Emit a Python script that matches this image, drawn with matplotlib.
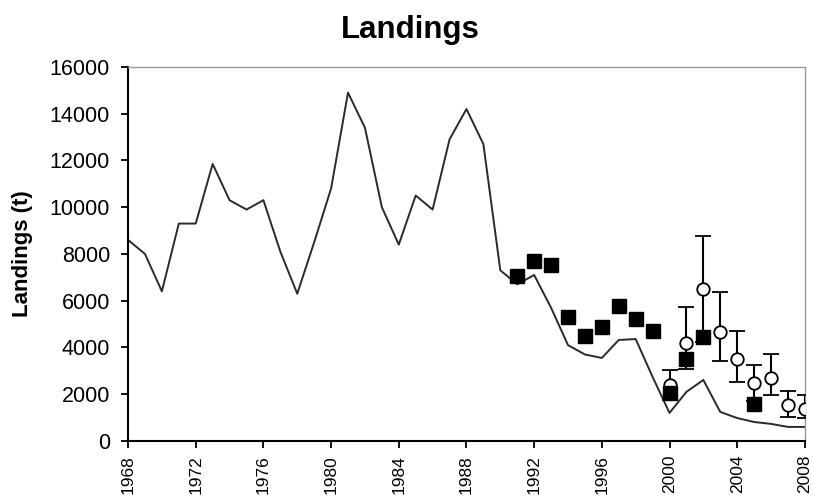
import matplotlib
matplotlib.use("Agg")
import matplotlib.pyplot as plt
import numpy as np

plt.rcParams['font.family'] = ['Liberation Sans', 'DejaVu Sans']

years = list(range(1968, 2009))
landings = [8600, 8000, 6400, 9300, 9300, 11850, 10300, 9900, 10300, 8100,
            6300, 8500, 10800, 14900, 13400, 10000, 8400, 10500, 9900, 12900,
            14200, 12700, 7300, 6700, 7100, 5700, 4100, 3700, 3550, 4320,
            4360, 2740, 1200, 2100, 2610, 1240, 980, 810, 730, 600, 600]

sq_years = [1991, 1992, 1993, 1994, 1995, 1996, 1997, 1998, 1999, 2000, 2001, 2002, 2005]
sq_vals = [7060, 7700, 7530, 5320, 4490, 4890, 5780, 5220, 4720, 2070, 3520, 4460, 1580]

circ_years = [2000, 2001, 2002, 2003, 2004, 2005, 2006, 2007, 2008]
circ_vals = [2400, 4180, 6500, 4680, 3490, 2470, 2710, 1540, 1370]
circ_upper = [3040, 5720, 8770, 6370, 4720, 3250, 3710, 2150, 1970]
circ_lower = [1760, 3070, 4230, 3420, 2520, 1690, 1970, 1040, 980]

fig = plt.figure(figsize=(8.13, 4.96), dpi=100)
ax = fig.add_axes([0.1575, 0.111, 0.8325, 0.754])

ax.plot(years, landings, color='#2a2a2a', lw=1.4, zorder=2)

yerr = [np.array(circ_vals) - np.array(circ_lower), np.array(circ_upper) - np.array(circ_vals)]
ax.errorbar(circ_years, circ_vals, yerr=yerr, fmt='o', mfc='white', mec='black',
            mew=1.3, ms=9, ecolor='black', elinewidth=1.5, capsize=6, capthick=1.5, zorder=3)
ax.plot(sq_years, sq_vals, 's', color='black', ms=9.5, zorder=4)

ax.set_xlim(1968, 2008)
ax.set_ylim(0, 16000)
ax.set_xticks(range(1968, 2009, 4))
ax.set_xticklabels([str(y) for y in range(1968, 2009, 4)], rotation=90, fontsize=12.5)
ax.set_yticks(range(0, 16001, 2000))
ax.set_yticklabels([str(v) for v in range(0, 16001, 2000)], fontsize=15.5)
ax.tick_params(direction='out', length=5, width=1.3, colors='black')
ax.tick_params(axis='y', pad=8)
ax.tick_params(axis='x', pad=5)

for s in ['left', 'bottom']:
    ax.spines[s].set_color('black')
    ax.spines[s].set_linewidth(1.5)
for s in ['top', 'right']:
    ax.spines[s].set_color('#999999')
    ax.spines[s].set_linewidth(1.0)

ax.set_ylabel('Landings (t)', fontsize=16, fontweight='bold', labelpad=12)
fig.text(0.505, 0.94, 'Landings', fontsize=22.5, fontweight='bold', ha='center', va='center')

fig.savefig('out.png', dpi=100)
